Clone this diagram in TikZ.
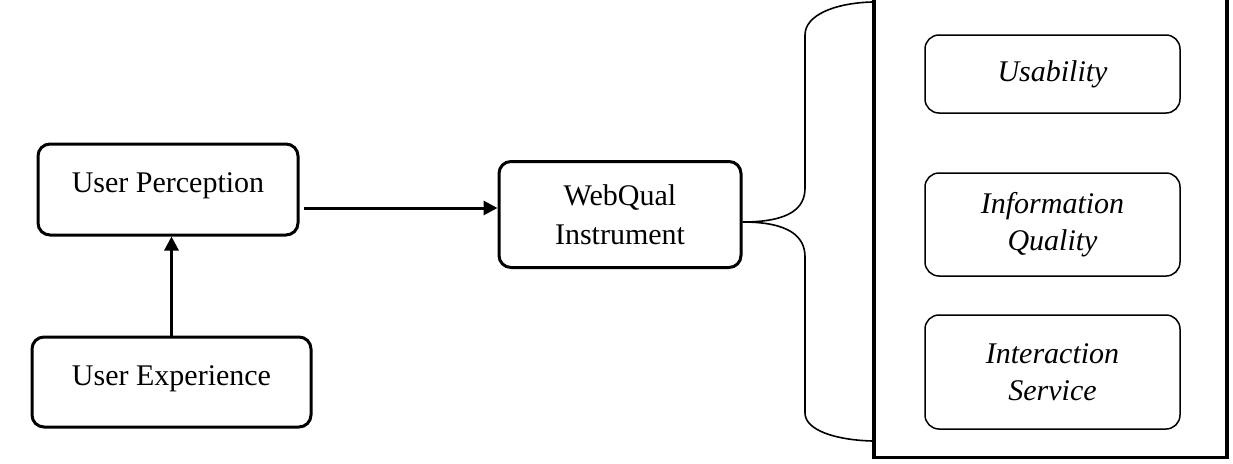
\documentclass[tikz,border=0pt]{standalone}
\usepackage{fontspec}
\setmainfont{Liberation Serif}
\usetikzlibrary{arrows.meta,calc}
\begin{document}
\begin{tikzpicture}[x=1pt,y=-1pt,
  outerbox/.style={draw,line width=3pt,rounded corners=12pt,align=center,inner sep=0pt,font=\fontsize{30}{39}\selectfont},
  innerbox/.style={draw,line width=1.5pt,rounded corners=14pt,align=center,inner sep=0pt,minimum width=255pt,font=\fontsize{30}{37}\selectfont\itshape},
  arr/.style={line width=3pt,-{Triangle[length=14pt,width=14pt]}},
  brace/.style={line width=1.6pt}]
\useasboundingbox (0,0) rectangle (1233,463);
\node[outerbox,minimum width=260pt,minimum height=91pt] (UP) at (168,189.5) {\raisebox{13pt}{User Perception}};
\node[outerbox,minimum width=279pt,minimum height=90pt] (UE) at (171.5,382) {\raisebox{12pt}{User Experience}};
\node[outerbox,minimum width=242pt,minimum height=106pt] (WQ) at (620,214.5) {WebQual\\Instrument};
\node[draw,line width=3.5pt,minimum width=353pt,minimum height=460pt,inner sep=0pt] (BIG) at (1050.5,227.5) {};
\node[innerbox,minimum height=78pt] (US) at (1052.5,74) {Usability};
\node[innerbox,minimum height=103pt] (IQ) at (1052.5,224.5) {Information\\Quality};
\node[innerbox,minimum height=114pt] (IS) at (1052.5,372) {Interaction\\Service};
\coordinate (a1) at ([xshift=4pt,yshift=-18.5pt]UP.east);
\draw[arr] (a1) -- (a1 -| WQ.west);
\draw[arr] (UE.north) -- (UE.north |- UP.south);
\coordinate (tip) at ([yshift=-7.5pt]WQ.east);
\draw[brace] (tip) .. controls (790,222) and (805,208) .. (805,188) -- (805,35) .. controls (805,15) and (835,3) .. (BIG.north west |- 0,2);
\draw[brace] (tip) .. controls (790,222) and (805,237) .. (805,257) -- (805,413) .. controls (805,430) and (835,440) .. (BIG.north west |- 0,441);
\end{tikzpicture}
\end{document}
